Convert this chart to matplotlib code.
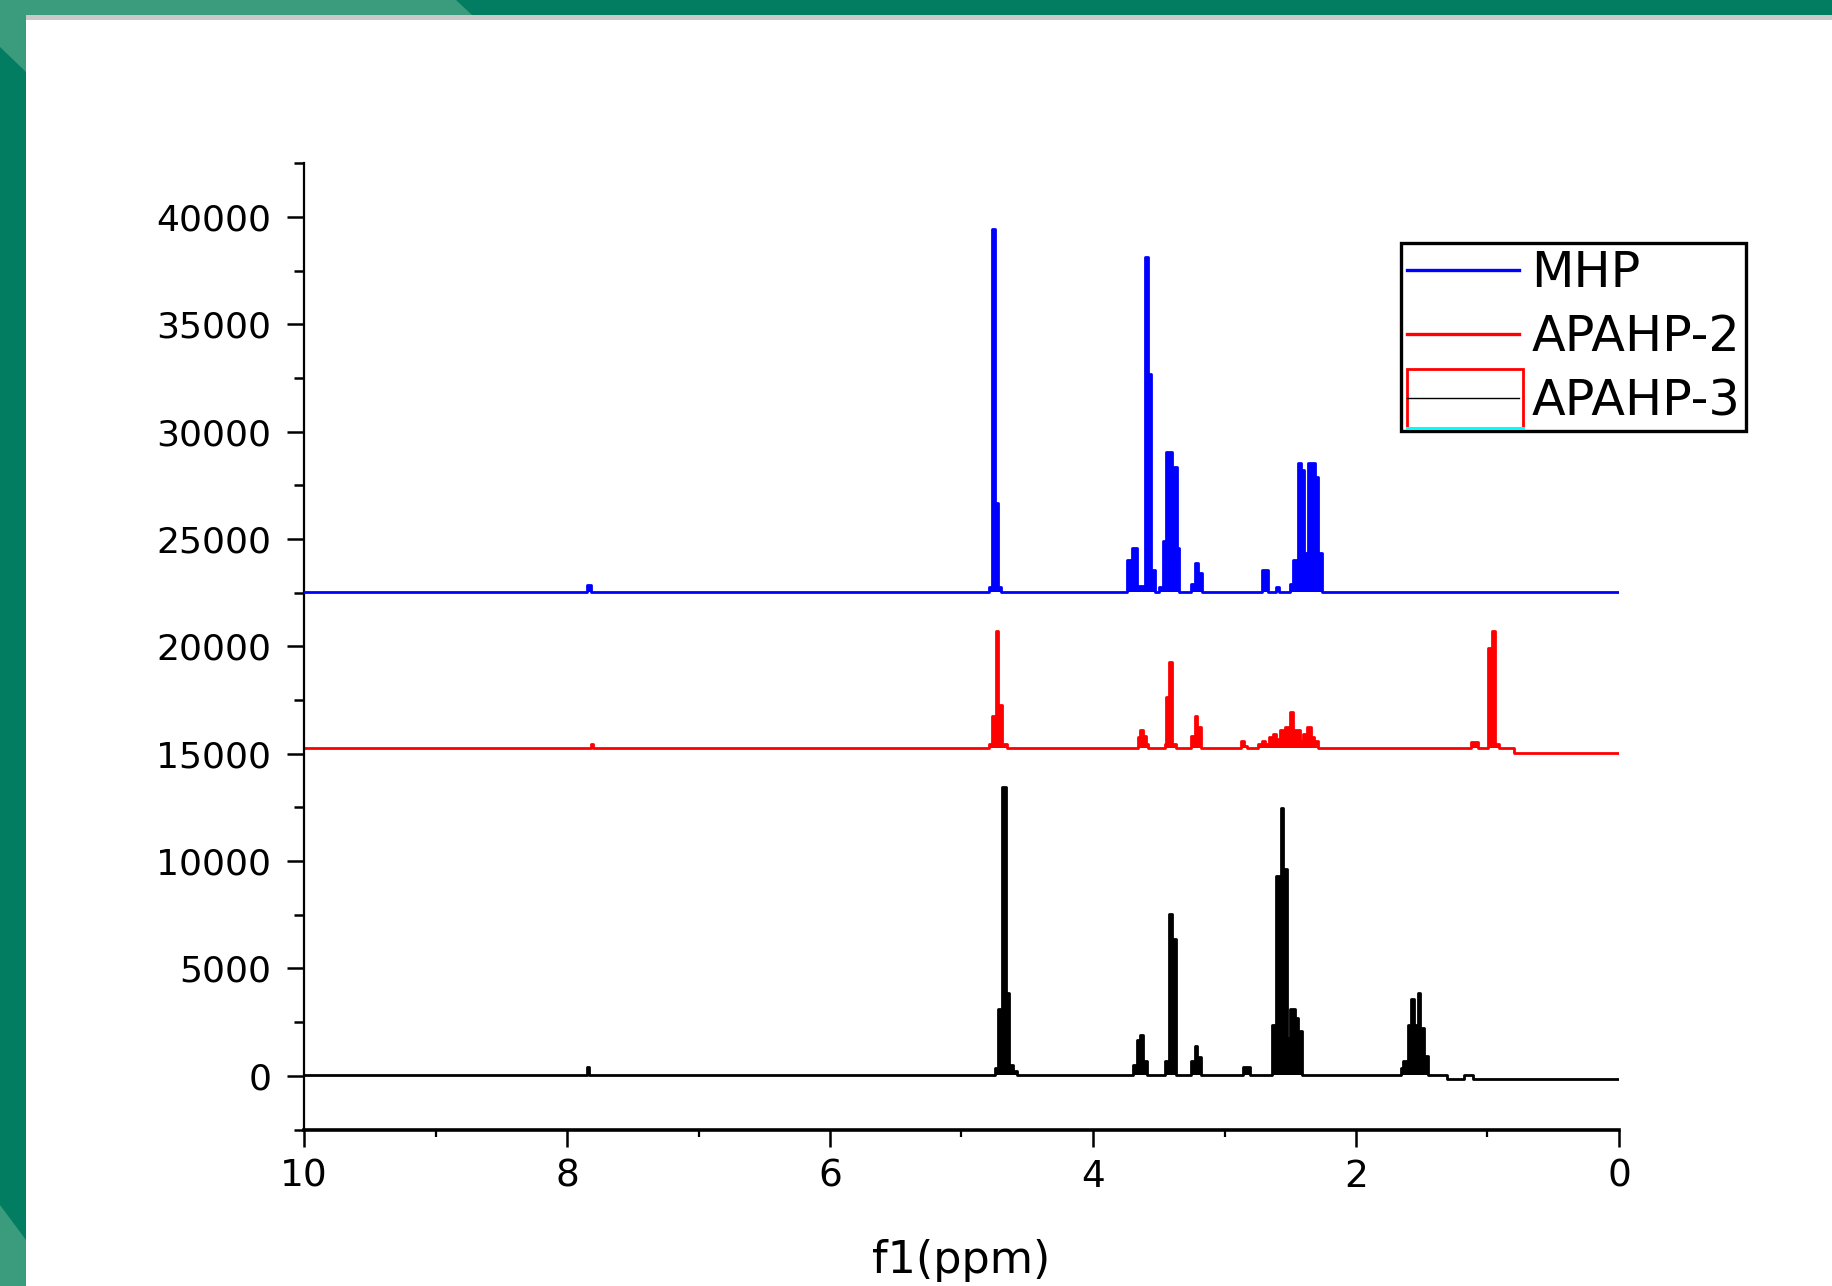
import matplotlib
matplotlib.use('Agg')
import matplotlib.pyplot as plt
from matplotlib.lines import Line2D
from matplotlib.patches import Rectangle, Polygon
from matplotlib.legend_handler import HandlerBase
from matplotlib.ticker import MultipleLocator

# 谱图数据：化学位移(ppm)断点 与 该断点起的强度（阶梯）
mhp_ppm = [10.0, 7.85, 7.82, 4.79, 4.77, 4.745, 4.72, 4.70,
           3.744, 3.706, 3.668, 3.605, 3.579, 3.559, 3.529, 3.50,
           3.47, 3.445, 3.40, 3.363, 3.343, 3.255, 3.224, 3.204, 3.174,
           2.717, 2.667, 2.611, 2.583, 2.502, 2.477, 2.443, 2.42, 2.393,
           2.368, 2.312, 2.287, 2.261, 0.0]
mhp_int = [22550, 22850, 22550, 22750, 39450, 26700, 22750, 22550,
           24050, 24575, 22800, 38150, 32680, 23580, 22550, 22750,
           24900, 29050, 28350, 24575, 22550, 22900, 23900, 23400, 22550,
           23580, 22550, 22760, 22550, 22900, 24050, 28560, 28200, 24360,
           28560, 27900, 24360, 22550, 22550]

apahp2_ppm = [10.0, 7.82, 7.80, 4.79, 4.765, 4.74, 4.72, 4.695, 4.657,
              3.655, 3.643, 3.622, 3.60, 3.579,
              3.455, 3.445, 3.42, 3.40, 3.37,
              3.257, 3.224, 3.206, 3.18,
              2.875, 2.85, 2.83,
              2.743, 2.715, 2.692, 2.659, 2.629, 2.608, 2.578, 2.54, 2.502,
              2.477, 2.426, 2.401, 2.375, 2.345, 2.32, 2.287,
              1.125, 1.07, 0.994, 0.963, 0.943, 0.91, 0.80, 0.0]
apahp2_int = [15250, 15450, 15250, 15450, 16770, 20740, 17270, 15450, 15250,
              15800, 16120, 15810, 15450, 15250,
              15450, 17630, 19260, 15450, 15250,
              15810, 16770, 16260, 15250,
              15610, 15370, 15250,
              15450, 15610, 15450, 15760, 15920, 15690, 16120, 16230, 16960,
              16120, 15610, 15920, 16260, 15760, 15610, 15250,
              15570, 15250, 19910, 20740, 15450, 15290, 15060, 15060]

apahp3_ppm = [10.0, 7.85, 7.83, 4.745, 4.725, 4.69, 4.66, 4.636, 4.61, 4.58,
              3.693, 3.668, 3.643, 3.618, 3.587,
              3.452, 3.42, 3.40, 3.37,
              3.257, 3.224, 3.206, 3.18,
              2.858, 2.808,
              2.635, 2.608, 2.573, 2.558, 2.527, 2.502, 2.464, 2.439, 2.413,
              1.66, 1.64, 1.607, 1.584, 1.559, 1.53, 1.51, 1.483, 1.45,
              1.31, 1.179, 1.11, 0.0]
apahp3_int = [60, 420, 60, 370, 3090, 13475, 3870, 525, 215, 60,
              525, 1690, 1925, 710, 60,
              710, 7520, 6385, 60,
              710, 1380, 870, 60,
              400, 60,
              2390, 9310, 12495, 9650, 1770, 3090, 2700, 2080, 60,
              370, 710, 2390, 3560, 2390, 3870, 2235, 915, 60,
              -170, 60, -170, -170]

series_names = ['MHP', 'APAHP-2', 'APAHP-3']
series_colors = ['#0000ff', '#ff0000', '#000000']
x_ticks = [10, 8, 6, 4, 2, 0]
y_ticks = [0, 5000, 10000, 15000, 20000, 25000, 30000, 35000, 40000]

W, H = 1833, 1286


def px(x, y):
    # 像素坐标 -> 画布坐标
    return (x / W, 1 - y / H)


class HandlerBoxLine(HandlerBase):
    # 第三个图例：红框 + 黑线 + 底部青色线
    def create_artists(self, legend, orig_handle, xdescent, ydescent,
                       width, height, fontsize, trans):
        yc = height / 2 - ydescent
        x0 = -xdescent
        h = 1.2 * fontsize
        w = width * 1.035
        rect = Rectangle((x0, yc - h / 2), w, h, facecolor='none',
                         edgecolor='red', lw=2.0, transform=trans)
        line = Line2D([x0, x0 + width], [yc, yc], color='black', lw=1.0,
                      transform=trans)
        cyan = Line2D([x0, x0 + w], [yc - h / 2, yc - h / 2], color='cyan',
                      lw=2.2, transform=trans)
        return [rect, line, cyan]


fig = plt.figure(figsize=(W / 100, H / 100), dpi=100)

# 幻灯片绿色边框
dark = '#037d61'
light = '#3b9b7d'
fig.add_artist(Rectangle(px(0, 15), 1, 15 / H, transform=fig.transFigure,
                         color=dark, lw=0))
fig.add_artist(Rectangle(px(0, H), 26 / W, 1, transform=fig.transFigure,
                         color=dark, lw=0))
fig.add_artist(Polygon([px(0, 0), px(456, 0), px(472, 15), px(26, 15),
                        px(26, 72), px(0, 47)], closed=True,
                       transform=fig.transFigure, color=light, lw=0))
fig.add_artist(Polygon([px(0, 1205), px(26, 1240), px(26, H), px(0, H)],
                       closed=True, transform=fig.transFigure, color=light, lw=0))
fig.add_artist(Rectangle(px(26, 20), 1, 5 / H, transform=fig.transFigure,
                         color='#c9c9c9', lw=0))

ax = fig.add_axes([304 / W, 1 - 1129.5 / H, (1619 - 304) / W, (1129.5 - 163.4) / H])

data = [(mhp_ppm, mhp_int), (apahp2_ppm, apahp2_int), (apahp3_ppm, apahp3_int)]
for (xs, ys), color, z in zip(data, series_colors, [3, 2, 1]):
    base = ys[0]
    ax.plot(xs, ys, drawstyle='steps-post', color=color, lw=2.0, zorder=z)
    # 只填充基线以上的峰
    ax.fill_between(xs, base, [max(v, base) for v in ys], step='post',
                    color=color, lw=0, zorder=z)

ax.set_xlim(10, 0)
ax.set_ylim(-2500, 42500)
ax.set_xticks(x_ticks)
ax.set_xticklabels([str(t) for t in x_ticks])
ax.xaxis.set_minor_locator(MultipleLocator(1))
ax.set_yticks(y_ticks)
ax.set_yticklabels([str(t) for t in y_ticks])
ax.yaxis.set_minor_locator(MultipleLocator(2500))

for side in ['top', 'right']:
    ax.spines[side].set_visible(False)
ax.spines['left'].set_linewidth(1.6)
ax.spines['bottom'].set_linewidth(2.6)

ax.tick_params(axis='both', which='major', labelsize=26, width=1.8, direction='out')
ax.tick_params(axis='x', which='major', length=12, pad=9, labelsize=27)
ax.tick_params(axis='x', which='minor', length=5, width=1.6)
ax.tick_params(axis='y', which='major', length=12.5, pad=11)
ax.tick_params(axis='y', which='minor', length=7.5, width=1.8)

ax.set_xlabel('f1(ppm)', fontsize=32, labelpad=32)

handles = [Line2D([], [], color='#0000ff', lw=2.4),
           Line2D([], [], color='#ff0000', lw=2.4),
           Rectangle((0, 0), 1, 1)]
leg = fig.legend(handles, series_names, loc='upper left',
                 bbox_to_anchor=px(1401, 243), fontsize=35.5,
                 handlelength=2.27, handletextpad=0.25, borderpad=0.12,
                 labelspacing=0.33, borderaxespad=0, fancybox=False,
                 framealpha=1, edgecolor='black',
                 handler_map={Rectangle: HandlerBoxLine()})
leg.get_frame().set_linewidth(2.4)

plt.savefig('out.png', dpi=100)
